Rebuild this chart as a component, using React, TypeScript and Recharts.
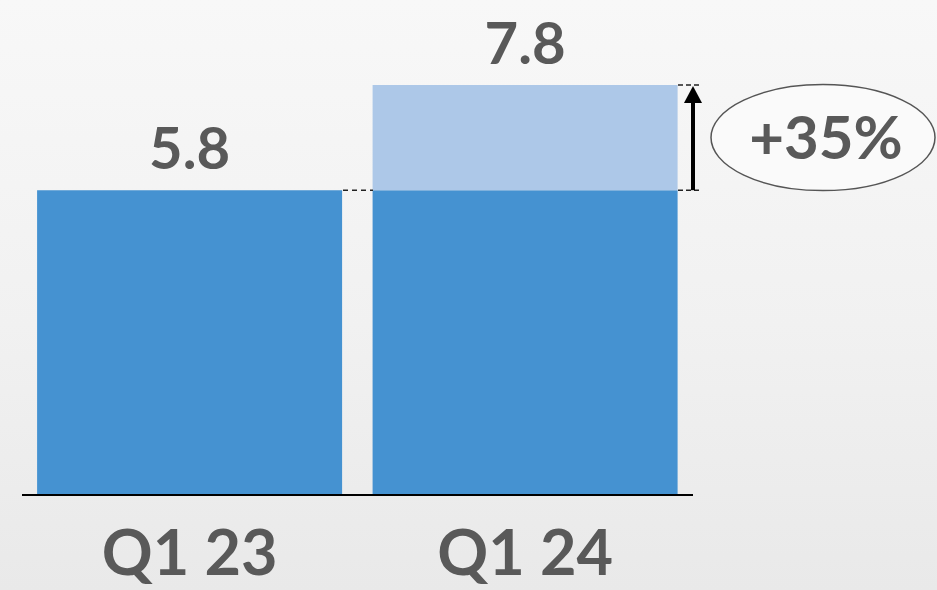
import { BarChart, Bar, XAxis, YAxis, LabelList, ReferenceArea, ReferenceLine } from 'recharts';

const categories = ['Q1 23', 'Q1 24'];
const baseValues = [5.8, 5.8];
const growthValues = [0, 2.0];
const totals = [5.8, 7.8];
const growthLabel = '+35%';

// total goes on the segment that forms the top of each column
const data = categories.map((quarter, i) => ({
  quarter,
  base: baseValues[i],
  growth: growthValues[i],
  baseLabel: growthValues[i] > 0 ? null : totals[i],
  growthLabel: growthValues[i] > 0 ? totals[i] : null,
}));

const TEXT = '#595959';
const FONT = 'Lato, "Open Sans", sans-serif';

const QuarterTick = (props: any) => {
  const { x, y, payload } = props;
  return (
    <text x={x} y={y + 72} textAnchor="middle" fill={TEXT} fontSize={63} fontWeight={700} fontFamily={FONT}>
      {payload.value}
    </text>
  );
};

const TotalLabel = (props: any) => {
  const { x, y, width, value } = props;
  if (value === null || value === undefined || value === '') return null;
  return (
    <text x={x + width / 2} y={y - 21} textAnchor="middle" fill={TEXT} fontSize={58} fontWeight={700} fontFamily={FONT}>
      {value}
    </text>
  );
};

// dashed connector between the two bars at the Q1 23 level
const ConnectorLine = (props: any) => {
  const y = props.y1;
  return <line x1={343} x2={373} y1={y} y2={y} stroke="#222" strokeWidth={1.5} strokeDasharray="5 4" />;
};

// arrow + ellipse annotation for the increase
const GrowthMarker = (props: any) => {
  const { x, y, width, height } = props;
  const ax = x + width;
  const top = y;
  const bottom = y + height;
  const cy = (top + bottom) / 2;
  return (
    <g>
      <line x1={678} x2={702} y1={top} y2={top} stroke="#222" strokeWidth={1.5} strokeDasharray="5 3" />
      <line x1={678} x2={702} y1={bottom} y2={bottom} stroke="#222" strokeWidth={1.5} strokeDasharray="5 3" />
      <line x1={ax} x2={ax} y1={bottom} y2={top + 14} stroke="#000" strokeWidth={4} />
      <path d={`M ${ax} ${top + 1} L ${ax - 9} ${top + 18} L ${ax + 9} ${top + 18} Z`} fill="#000" />
      <ellipse cx={823} cy={cy} rx={112} ry={53} fill="#fafafa" stroke="#555" strokeWidth={1.5} />
      <text x={826} y={cy + 21} textAnchor="middle" fill={TEXT} fontSize={60} fontWeight={700} fontFamily={FONT}>
        {growthLabel}
      </text>
    </g>
  );
};

export default function App() {
  return (
    <div
      style={{
        position: 'absolute',
        top: 0,
        left: 0,
        width: 937,
        height: 590,
        background: 'linear-gradient(180deg, #f8f8f8 0%, #f1f1f1 55%, #e9e9e9 100%)',
        overflow: 'hidden',
      }}
    >
      <BarChart
        width={937}
        height={590}
        data={data}
        margin={{ top: 22, right: 244, bottom: 0, left: 22 }}
        barCategoryGap="4.5%"
      >
        <YAxis hide domain={[0, 9]} />
        <XAxis
          dataKey="quarter"
          height={95}
          axisLine={{ stroke: '#000', strokeWidth: 2 }}
          tickLine={false}
          tick={<QuarterTick />}
          interval={0}
        />
        <Bar dataKey="base" stackId="q" fill="#4592d1" isAnimationActive={false}>
          <LabelList dataKey="baseLabel" content={<TotalLabel />} />
        </Bar>
        <Bar dataKey="growth" stackId="q" fill="#adc8e8" isAnimationActive={false}>
          <LabelList dataKey="growthLabel" content={<TotalLabel />} />
        </Bar>
        <ReferenceLine y={5.8} shape={<ConnectorLine />} stroke="none" />
        <ReferenceArea y1={5.8} y2={7.8} ifOverflow="visible" shape={<GrowthMarker />} />
      </BarChart>
    </div>
  );
}
